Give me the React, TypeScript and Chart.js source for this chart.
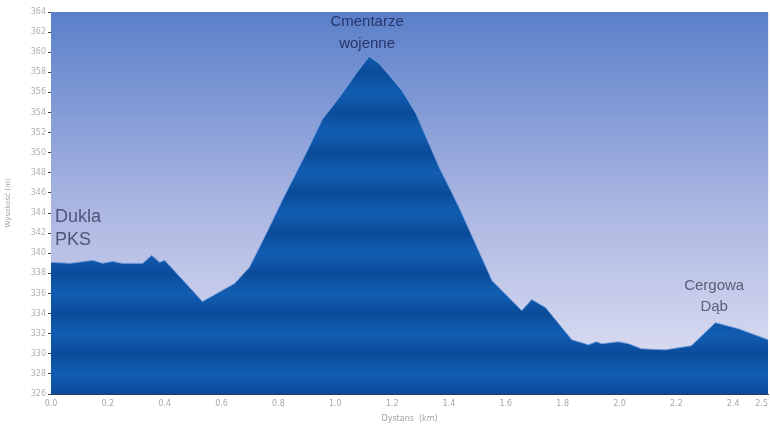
import React, { useEffect, useRef } from "react";
import { Chart, registerables } from "chart.js";

Chart.register(...registerables);

const distanceKm = [0.0, 0.067, 0.147, 0.182, 0.218, 0.249, 0.323, 0.354, 0.382, 0.4, 0.533, 0.646, 0.698, 0.758, 0.814, 0.898, 0.954, 1.014, 1.074, 1.119, 1.154, 1.235, 1.284, 1.365, 1.435, 1.54, 1.551, 1.656, 1.691, 1.74, 1.832, 1.891, 1.919, 1.937, 1.996, 2.032, 2.077, 2.161, 2.253, 2.337, 2.418, 2.523];
const elevationM = [339.1, 339.0, 339.3, 339.0, 339.2, 339.0, 339.0, 339.8, 339.1, 339.3, 335.2, 337.0, 338.6, 342.0, 345.3, 350.0, 353.3, 355.5, 357.9, 359.6, 358.9, 356.2, 353.9, 348.6, 344.6, 338.0, 337.3, 334.3, 335.4, 334.6, 331.4, 330.9, 331.2, 331.0, 331.2, 331.0, 330.5, 330.4, 330.8, 333.1, 332.5, 331.4];
const xTickValues = [0.0, 0.2, 0.4, 0.6, 0.8, 1.0, 1.2, 1.4, 1.6, 1.8, 2.0, 2.2, 2.4, 2.5];
const yMin = 326;
const yMax = 364;
const yStep = 2;
const xTitle = "Dystans  (km)";
const yTitle = "Wysokość (m)";
const placeLines = [["Dukla", "PKS"], ["Cmentarze", "wojenne"], ["Cergowa", "Dąb"]];
const placeX = [0.014, 1.112, 2.333];
const placeY = [343.6, 363.0, 336.8];

export default function App() {
  const ref = useRef<HTMLCanvasElement | null>(null);
  useEffect(() => {
    document.body.style.margin = "0";
    const canvas = ref.current!;
    const bgPlugin = {
      id: "bg",
      beforeDatasetsDraw(chart: any) {
        const { ctx, chartArea } = chart;
        if (!chartArea) return;
        const g = ctx.createLinearGradient(0, chartArea.top, 0, chartArea.bottom);
        g.addColorStop(0, "#5a7fc9");
        g.addColorStop(0.5, "#a9b5e1");
        g.addColorStop(1, "#e4e4f4");
        ctx.save();
        ctx.fillStyle = g;
        ctx.fillRect(chartArea.left, chartArea.top, chartArea.right - chartArea.left, chartArea.bottom - chartArea.top);
        ctx.restore();
      },
    };
    const labelPlugin = {
      id: "places",
      afterDatasetsDraw(chart: any) {
        const { ctx, scales } = chart;
        const styles = [
          { size: 18, color: "#4e5678", align: "left", gap: 5 },
          { size: 15, color: "#26366c", align: "center", gap: 7 },
          { size: 15, color: "#5a6078", align: "center", gap: 6 },
        ];
        ctx.save();
        placeLines.forEach((lines, i) => {
          const st = styles[i];
          const px = scales.x.getPixelForValue(placeX[i]);
          const py = scales.y.getPixelForValue(placeY[i]);
          ctx.font = `${st.size}px "Liberation Sans", Arial, sans-serif`;
          ctx.fillStyle = st.color;
          ctx.textAlign = st.align;
          ctx.textBaseline = "middle";
          lines.forEach((t, j) => ctx.fillText(t, px, py + j * (st.size + st.gap)));
        });
        ctx.restore();
      },
    };
    const chart = new Chart(canvas, {
      type: "line",
      data: {
        datasets: [
          {
            data: distanceKm.map((x, i) => ({ x, y: elevationM[i] })),
            fill: "start",
            borderColor: "rgba(120,160,225,0.9)",
            borderWidth: 1,
            pointRadius: 0,
            tension: 0,
            backgroundColor: (c: any) => {
              const ch = c.chart;
              const area = ch.chartArea;
              if (!area) return "#0c56aa";
              const ys = ch.scales.y;
              const g = ch.ctx.createLinearGradient(0, area.top, 0, area.bottom);
              const span = area.bottom - area.top;
              for (let v = yMax; v >= yMin; v -= 1) {
                const p = (ys.getPixelForValue(v) - area.top) / span;
                const m = ((v - yMin) % 4 + 4) % 4;
                const col = m === 0 ? "#0b4b98" : m === 2 ? "#125db2" : "#0e55a7";
                g.addColorStop(Math.min(1, Math.max(0, p)), col);
              }
              return g;
            },
          },
        ],
      },
      options: {
        animation: false,
        responsive: false,
        maintainAspectRatio: false,
        layout: { padding: { top: 12, right: 0, left: 4, bottom: 0 } },
        plugins: { legend: { display: false }, tooltip: { enabled: false } },
        scales: {
          x: {
            type: "linear",
            min: 0,
            max: 2.523,
            afterBuildTicks: (s: any) => {
              s.ticks = xTickValues.map((v) => ({ value: v }));
            },
            afterFit: (s: any) => {
              s.height = 30;
            },
            ticks: {
              autoSkip: false,
              maxRotation: 0,
              color: "#a8a8a8",
              font: { size: 8, family: "'DejaVu Sans', sans-serif" },
              padding: 2,
              callback: (v: any) => Number(v).toFixed(1),
            },
            grid: { display: false, drawOnChartArea: false, drawTicks: true, tickLength: 3, color: "#444" },
            border: { display: true, color: "#2a3a5a", width: 1 },
            title: { display: true, text: xTitle, color: "#a0a0a0", font: { size: 8, family: "'DejaVu Sans', sans-serif" }, padding: { top: 0, bottom: 0 } },
          },
          y: {
            min: yMin,
            max: yMax,
            ticks: {
              stepSize: yStep,
              color: "#b0b0b0",
              font: { size: 8, family: "'DejaVu Sans', sans-serif" },
              padding: 2,
            },
            afterFit: (s: any) => {
              s.width = 47;
            },
            grid: { display: true, drawOnChartArea: false, drawTicks: true, tickLength: 3, color: "#444" },
            border: { display: true, color: "#2a3a5a", width: 1 },
            title: { display: true, text: yTitle, color: "#a0a0a0", font: { size: 7, family: "'DejaVu Sans', sans-serif" }, padding: { top: 0, bottom: 4 } },
          },
        },
      },
      plugins: [bgPlugin, labelPlugin],
    } as any);
    return () => chart.destroy();
  }, []);
  return (
    <div style={{ width: 770, height: 424 }}>
      <canvas ref={ref} width={770} height={424} style={{ width: 770, height: 424, display: "block" }} />
    </div>
  );
}
